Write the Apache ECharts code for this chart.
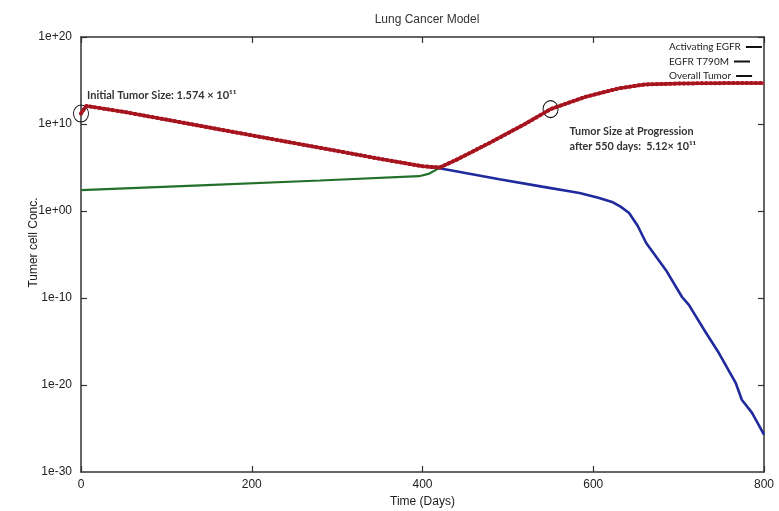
<!DOCTYPE html>
<html>
<head>
<meta charset="utf-8">
<script src="https://cdn.jsdelivr.net/npm/echarts@6/dist/echarts.min.js"></script>
<style>
  html, body { margin: 0; padding: 0; background: #fff; }
  #chart { width: 779px; height: 511px; }
</style>
</head>
<body>
<div id="chart"></div>
<script>
// Overall tumor burden (sum of both clones)
const overallDays = [0, 6, 50, 100, 150, 200, 250, 300, 350, 400, 420, 440, 480, 520, 550, 590, 630, 660, 700, 750, 800];
const overallVals = [1.574e11, 1.2e12, 2.5e11, 3.2e10, 4e9, 5e8, 6.3e7, 8e6, 1e6, 1.4e5, 1e5, 8e5, 8e7, 1e10, 5.12e11, 1.26e13, 1.26e14, 3.5e14, 4.5e14, 5e14, 5e14];

// Drug-sensitive clone (activating EGFR mutation)
const activatingDays = [0, 6, 50, 100, 150, 200, 250, 300, 350, 400, 420, 490, 540, 584, 607, 622, 632, 642, 652, 662, 685, 704, 712, 732, 747, 767, 774, 786, 800];
const activatingVals = [1.574e11, 1.2e12, 2.5e11, 3.2e10, 4e9, 5e8, 6.3e7, 8e6, 1e6, 1.4e5, 8e4, 4.5e3, 6.3e2, 1.2e2, 3.2e1, 1.1e1, 3.2, 6e-1, 2e-2, 2.1e-4, 1.7e-7, 1.3e-10, 1.6e-11, 1e-14, 5e-17, 1.6e-20, 2e-22, 6.3e-24, 2e-26];

// Resistant clone (EGFR T790M)
const resistantDays = [0, 140, 280, 396, 408, 420, 440, 480, 520, 550, 590, 630, 660, 700, 750, 800];
const resistantVals = [2.5e2, 9e2, 3.2e3, 1e4, 2e4, 9e4, 8e5, 8e7, 1e10, 5e11, 1.25e13, 1.25e14, 3.5e14, 4.5e14, 5e14, 5e14];

const legendNames = ['Activating EGFR', 'EGFR T790M', 'Overall Tumor'];
const xTicks = { min: 0, max: 800, step: 200 };
// y range as powers of ten: 1e-30 .. 1e+20, a label every 10 decades
const yDecades = { min: -30, max: 20, step: 10 };

const zip = (xs, ys) => xs.map((x, i) => [x, ys[i]]);

const frame = { show: true, onZero: false, lineStyle: { color: '#333', width: 1.5 } };
const tickIn = { show: true, inside: true, length: 6, lineStyle: { color: '#333', width: 1.2 } };
const sansFont = '"Liberation Sans", Arial, sans-serif';
const noteFont = 'Lato, "Noto Sans", sans-serif';

function expLabel(e) {
  return '1e' + (e < 0 ? '-' : '+') + String(Math.abs(e)).padStart(2, '0');
}

// one legend block per entry so the texts line up on the left, key line after the text
const legends = legendNames.map((name, i) => ({
  orient: 'vertical',
  left: 664, top: 37 + i * 14.5,
  align: 'right',
  icon: 'rect',
  itemWidth: 16, itemHeight: 2,
  selectedMode: false,
  textStyle: { fontFamily: noteFont, fontSize: 10, color: '#222' },
  data: [{ name: name, itemStyle: { color: '#111' } }]
}));

const logAxis = (extra) => Object.assign({
  type: 'log', logBase: 10,
  min: Math.pow(10, yDecades.min), max: Math.pow(10, yDecades.max), splitNumber: 5,
  axisLine: frame, axisTick: tickIn, axisLabel: { show: false }, splitLine: { show: false }
}, extra);

const chart = echarts.init(document.getElementById('chart'), null, { renderer: 'canvas' });

chart.setOption({
  animation: false,
  backgroundColor: '#fff',
  title: {
    text: 'Lung Cancer Model',
    left: 422, top: 9, textAlign: 'center',
    textStyle: { fontFamily: sansFont, fontSize: 12, fontWeight: 'normal', color: '#333' }
  },
  legend: legends,
  grid: { left: 81, right: 15, top: 37, bottom: 39, containLabel: false, outerBoundsMode: 'none' },
  xAxis: [
    {
      type: 'value', min: xTicks.min, max: xTicks.max, interval: xTicks.step,
      axisLine: frame, axisTick: tickIn,
      axisLabel: { margin: 7, fontFamily: sansFont, fontSize: 12, color: '#222' },
      splitLine: { show: false },
      name: 'Time (Days)', nameLocation: 'middle', nameGap: 17,
      nameTextStyle: { fontFamily: sansFont, fontSize: 12, color: '#222' }
    },
    {
      type: 'value', position: 'top', min: xTicks.min, max: xTicks.max, interval: xTicks.step,
      axisLine: frame, axisTick: tickIn, axisLabel: { show: false }, splitLine: { show: false }
    }
  ],
  yAxis: [
    // value scale for the curves
    logAxis({ position: 'left' }),
    // decade labels and axis title on the left
    {
      type: 'value', position: 'left',
      min: yDecades.min, max: yDecades.max, interval: yDecades.step,
      axisLine: { show: false }, axisTick: { show: false }, splitLine: { show: false },
      axisLabel: {
        margin: 9, fontFamily: sansFont, fontSize: 12, color: '#222', formatter: expLabel,
        showMinLabel: true, showMaxLabel: true
      },
      name: 'Tumer cell Conc.', nameLocation: 'middle', nameGap: 41, nameMoveOverlap: false,
      nameTextStyle: { fontFamily: sansFont, fontSize: 12, color: '#222', padding: [0, 0, 0, 24] }
    },
    // mirrored frame on the right
    logAxis({ position: 'right' })
  ],
  series: [
    {
      name: legendNames[0], type: 'line', data: zip(activatingDays, activatingVals),
      showSymbol: false, lineStyle: { color: '#1f2a9c', width: 2.6 }, itemStyle: { color: '#1f2a9c' }, z: 2
    },
    {
      name: legendNames[1], type: 'line', data: zip(resistantDays, resistantVals),
      showSymbol: false, lineStyle: { color: '#23702b', width: 2.2 }, itemStyle: { color: '#23702b' }, z: 3
    },
    {
      name: legendNames[2], type: 'line', data: zip(overallDays, overallVals),
      showSymbol: false, lineStyle: { color: '#c8222c', width: 3.4 }, itemStyle: { color: '#c8222c' }, z: 4,
      markPoint: {
        symbol: 'circle', symbolSize: [15, 17], silent: true,
        itemStyle: { color: 'rgba(0,0,0,0)', borderColor: '#111', borderWidth: 1 },
        data: [
          {
            coord: [overallDays[0], overallVals[0]],
            label: {
              show: true, position: [14, -9], align: 'left', verticalAlign: 'middle',
              formatter: 'Initial Tumor Size: 1.574 \u00d7 10\u00b9\u00b9',
              fontFamily: noteFont, fontSize: 11, fontWeight: 'bold', color: '#333'
            }
          },
          {
            coord: [550, 5.12e11],
            label: {
              show: true, position: [27, 24], align: 'left', verticalAlign: 'top', lineHeight: 15,
              formatter: 'Tumor Size at Progression\nafter 550 days:  5.12\u00d7 10\u00b9\u00b9',
              fontFamily: noteFont, fontSize: 10.8, fontWeight: 'bold', color: '#333'
            }
          }
        ]
      }
    },
    {
      // beaded texture on the overall-tumor curve
      name: 'overall-beads', type: 'line', data: zip(overallDays, overallVals),
      showSymbol: false, silent: true, z: 5,
      lineStyle: { color: '#a3141e', width: 4, type: [0.5, 4], cap: 'round' }
    }
  ]
});
</script>
</body>
</html>
